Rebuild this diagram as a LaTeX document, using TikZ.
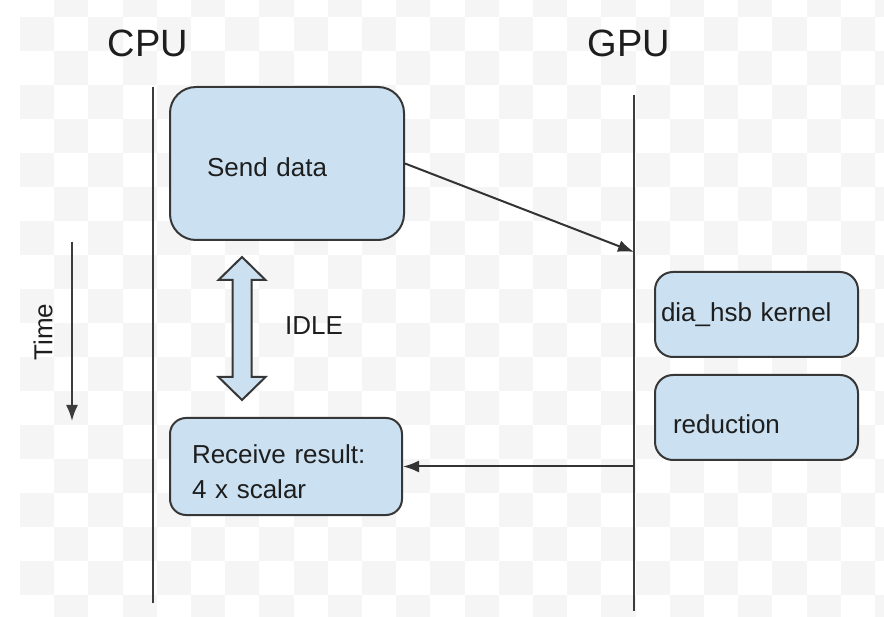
\documentclass[tikz,border=0pt]{standalone}
\usepackage{fontspec}
\setmainfont{Liberation Sans}
\usetikzlibrary{arrows.meta}
\definecolor{checkgray}{RGB}{245,245,245}
\definecolor{boxfill}{RGB}{203,225,242}
\definecolor{boxedge}{RGB}{55,55,55}
\definecolor{inkline}{RGB}{60,60,60}
\definecolor{inktext}{RGB}{30,30,30}
\tikzset{
  lifeline/.style={draw=inkline, line width=2pt},
  taskbox/.style={draw=boxedge, fill=boxfill, line width=2pt, align=left,
    text=inktext, font=\fontsize{26}{35}\selectfont},
  msg/.style={draw=black!80, line width=2pt, -{Latex[length=16pt,width=12pt]}},
  title/.style={text=inktext, font=\fontsize{38}{44}\selectfont, anchor=base},
  caption/.style={text=inktext, font=\fontsize{26}{30}\selectfont},
}
\begin{document}
\begin{tikzpicture}[x=1pt,y=-1pt]
\useasboundingbox (0,0) rectangle (884,617);
\fill[white] (0,0) rectangle (884,617);
% light checkered backdrop
\begin{scope}
  \clip (20,0) rectangle (884,617);
  \foreach \i in {0,...,25} {
    \foreach \j in {-1,...,18} {
      \pgfmathtruncatemacro\parity{mod(\i+\j+100,2)}
      \ifnum\parity=0
        \fill[checkgray] (20+34.2*\i,17+34*\j) rectangle (20+34.2*\i+34.2,17+34*\j+34);
      \fi
    }
  }
\end{scope}

% headings
\node[title] (cpu) at (148,57) {CPU};
\node[title] (gpu) at (629,57) {GPU};

% lifelines
\coordinate (cputop) at (153,87);
\coordinate (cpubot) at (153,603);
\coordinate (gputop) at (634,95);
\coordinate (gpubot) at (634,611);
\draw[lifeline] (cputop) -- (cpubot);
\draw[lifeline] (gputop) -- (gpubot);

% CPU side tasks
\node[taskbox, rounded corners=26pt, minimum width=234pt, minimum height=153pt,
      text width=160pt, inner xsep=37pt, text height=27pt, text depth=0pt]
      (send) at (287,163.5) {Send data};
\node[taskbox, rounded corners=16pt, minimum width=232pt, minimum height=97pt,
      text width=188pt, inner xsep=22pt, text depth=25pt] (recv) at (286,466.5)
      {Receive result:\\4 x scalar};

% GPU side tasks
\node[taskbox, rounded corners=18pt, minimum width=203pt, minimum height=85pt,
      text width=191pt, inner xsep=6pt] (kern) at (756.5,314.5) {dia\_hsb kernel};
\node[taskbox, rounded corners=18pt, minimum width=203pt, minimum height=85pt,
      text width=167pt, inner xsep=18pt, text height=33pt, text depth=0pt]
      (red) at (756.5,417.5) {reduction};

% messages between the two sides
\coordinate (gpuin) at (634,252);
\coordinate (gpuout) at (634,466.5);
\draw[msg] (send.east) -- (gpuin);
\draw[msg] (gpuout) -- (recv.east);

% idle interval
\draw[draw=boxedge, fill=boxfill, line width=2pt, line join=miter]
  (242,257) -- (265.5,280) -- (251.5,280) -- (251.5,377) -- (265.5,377)
  -- (242,400) -- (218.5,377) -- (232.5,377) -- (232.5,280) -- (218.5,280) -- cycle;
\node[caption, anchor=base west, inner sep=0pt] (idle) at (285,335) {IDLE};

% time axis
\coordinate (ttop) at (72,242);
\coordinate (tbot) at (72,421);
\draw[msg, draw=inkline] (ttop) -- (tbot);
\node[caption, rotate=90, inner sep=0pt] (time) at (43,332) {Time};
\end{tikzpicture}
\end{document}
